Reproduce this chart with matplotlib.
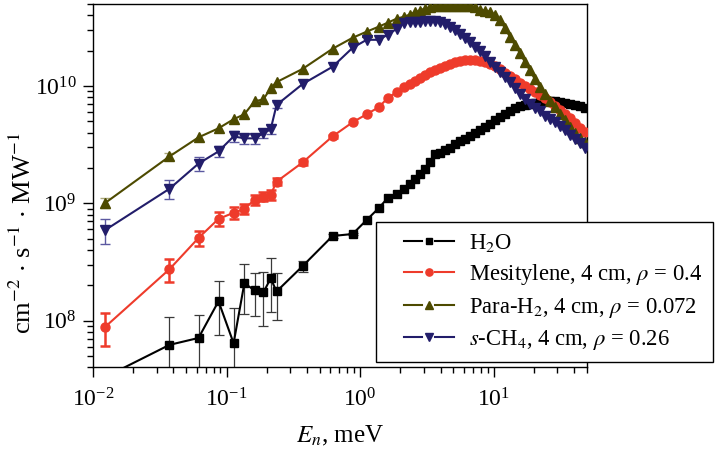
import matplotlib.pyplot as plt
from matplotlib.lines import Line2D
from matplotlib.legend_handler import HandlerBase

plt.rcParams['font.family'] = ['Liberation Serif', 'DejaVu Serif']
plt.rcParams['mathtext.fontset'] = 'stix'
plt.rcParams['font.size'] = 16

# energy bins (meV) below 2 meV, shared by all spectra
e_low = [0.0124, 0.0374, 0.0617, 0.0871, 0.113, 0.136, 0.162, 0.189, 0.214, 0.237,
         0.371, 0.622, 0.879, 1.12, 1.38, 1.61, 1.88]
# finer bins above 2 meV
e_high = [2.15, 2.35, 2.56, 2.79, 3.04, 3.32, 3.62, 3.94, 4.30, 4.68, 5.10, 5.56, 6.06,
          6.61, 7.20, 7.85, 8.57, 9.33, 10.2, 11.1, 12.1, 13.2, 14.4, 15.7, 17.1, 18.6,
          20.3, 22.1, 24.1, 26.3, 28.6, 31.2, 34.0, 37.1, 40.4, 44.1, 48.1]

# flux, cm^-2 s^-1 MW^-1
h2o_low = [3.3e7, 6.2e7, 7.1e7, 1.46e8, 6.4e7, 2.08e8, 1.81e8, 1.74e8, 2.29e8, 1.77e8,
           2.91e8, 5.26e8, 5.47e8, 7.21e8, 9.1e8, 1.11e9, 1.21e9]
h2o_high = [1.33e9, 1.47e9, 1.62e9, 1.79e9, 1.98e9, 2.23e9, 2.61e9, 2.71e9, 2.82e9, 2.99e9,
            3.18e9, 3.37e9, 3.51e9, 3.72e9, 3.95e9, 4.19e9, 4.45e9, 4.72e9, 5.11e9, 5.42e9,
            5.75e9, 6.1e9, 6.5e9, 6.7e9, 6.9e9, 7.0e9, 7.1e9, 7.3e9, 7.4e9, 7.4e9,
            7.4e9, 7.3e9, 7.1e9, 7.0e9, 6.9e9, 6.7e9, 6.5e9]
h2o_err = [0, 4.6e7, 4.1e7, 7.1e7, 6.5e7, 9.5e7, 7.2e7, 8.4e7, 1.11e8, 7.6e7, 3.0e7, 2.0e7, 1.5e7]

mes_low = [8.87e7, 2.74e8, 5.06e8, 7.36e8, 8.3e8, 8.97e8, 1.07e9, 1.14e9, 1.18e9, 1.53e9,
           2.23e9, 3.72e9, 4.91e9, 5.75e9, 6.6e9, 7.9e9, 8.9e9]
mes_high = [9.8e9, 1.04e10, 1.10e10, 1.17e10, 1.24e10, 1.32e10, 1.37e10, 1.43e10, 1.49e10,
            1.55e10, 1.61e10, 1.64e10, 1.67e10, 1.67e10, 1.67e10, 1.64e10, 1.61e10, 1.55e10,
            1.49e10, 1.40e10, 1.29e10, 1.22e10, 1.15e10, 1.06e10, 1.0e10, 9.4e9, 8.9e9,
            8.4e9, 7.9e9, 7.3e9, 6.7e9, 6.2e9, 5.75e9, 5.31e9, 4.81e9, 4.36e9, 4.03e9]
mes_err = [2.8e7, 6e7, 7e7, 1e8, 1e8, 8e7, 1e8, 1e8, 1.2e8, 1.0e8, 1.0e8, 1.0e8]

para_low = [1.01e9, 2.51e9, 3.65e9, 4.36e9, 5.21e9, 5.75e9, 7.4e9, 7.7e9, 9.6e9, 1.08e10,
            1.40e10, 2.08e10, 2.58e10, 2.91e10, 3.21e10, 3.47e10, 3.76e10]
para_high = [3.91e10, 4.07e10, 4.24e10, 4.40e10, 4.58e10, 4.68e10, 4.77e10, 4.77e10, 4.86e10,
             4.86e10, 4.86e10, 4.86e10, 4.86e10, 4.77e10, 4.68e10, 4.49e10, 4.40e10, 4.32e10,
             4.07e10, 3.69e10, 3.15e10, 2.64e10, 2.25e10, 1.92e10, 1.61e10, 1.37e10, 1.15e10,
             9.8e9, 8.5e9, 7.4e9, 6.6e9, 5.75e9, 5.11e9, 4.45e9, 3.95e9, 3.58e9, 3.30e9]
para_err = [1e8, 1.5e8]

ch4_low = [5.93e8, 1.33e9, 2.18e9, 2.77e9, 3.72e9, 3.58e9, 3.58e9, 3.95e9, 4.27e9, 6.9e9,
           1.04e10, 1.46e10, 2.12e10, 2.48e10, 2.48e10, 2.74e10, 3.08e10]
ch4_high = [3.47e10, 3.54e10, 3.54e10, 3.54e10, 3.62e10, 3.62e10, 3.62e10, 3.54e10, 3.41e10,
            3.21e10, 3.03e10, 2.79e10, 2.58e10, 2.39e10, 2.16e10, 2.0e10, 1.81e10, 1.61e10,
            1.46e10, 1.32e10, 1.19e10, 1.08e10, 9.6e9, 8.5e9, 7.7e9, 7.0e9, 6.5e9, 6.1e9,
            5.52e9, 5.21e9, 4.91e9, 4.54e9, 4.19e9, 3.80e9, 3.51e9, 3.24e9, 2.94e9]
ch4_err = [1.45e8, 2.5e8, 2.8e8, 3e8, 3.8e8, 3.5e8, 3.5e8, 3.8e8, 4e8, 4e8]

labels = ['H$_2$O',
          r'Mesitylene, 4 cm, $\rho$ = 0.4',
          r'Para-H$_2$, 4 cm, $\rho$ = 0.072',
          r'$s$-CH$_4$, 4 cm, $\rho$ = 0.26']

series = [
    # low, high, err, color, marker, size, err color, err width
    (h2o_low, h2o_high, h2o_err, '#000000', 's', 5.5, '#3a3a3a', 0.9),
    (mes_low, mes_high, mes_err, '#ee3b2b', 'o', 6.5, '#ee3b2b', 1.8),
    (para_low, para_high, para_err, '#4d4a00', '^', 7, '#a9a77a', 1.0),
    (ch4_low, ch4_high, ch4_err, '#221d6a', 'v', 7, '#5b58a0', 1.0),
]


class GapLineHandler(HandlerBase):
    # short line - marker - short line, set in from the left edge
    def create_artists(self, legend, orig, xdescent, ydescent, width, height, fontsize, trans):
        y = height / 2 - ydescent
        x1 = -xdescent + width
        x0 = x1 - 36
        xm = (x0 + x1) / 2
        gap = 5
        kw = dict(color=orig.get_color(), lw=1.5)
        left = Line2D([x0, xm - gap], [y, y], **kw)
        right = Line2D([xm + gap, x1], [y, y], **kw)
        mark = Line2D([xm], [y], marker=orig.get_marker(), ms=orig.get_markersize() * 0.8,
                      color=orig.get_color(), linestyle='none')
        for a in (left, right, mark):
            a.set_transform(trans)
        return [left, right, mark]


fig = plt.figure(figsize=(7.15, 4.55), dpi=100)
ax = fig.add_axes([0.130, 0.193, 0.691, 0.798])

handles = []
for i, (lo, hi, err, c, m, ms, ec, ew) in enumerate(series):
    ax.plot(e_low + e_high, lo + hi, color=c, marker=m, ms=ms, lw=1.5,
            mec=c, zorder=3 + i)
    n = len(err)
    ax.errorbar(e_low[:n], lo[:n], yerr=err, fmt='none', ecolor=ec, elinewidth=ew,
                capsize=3.5, capthick=ew, zorder=2.5 + i)
    handles.append(Line2D([], [], color=c, marker=m, ms=ms))

ax.set_xscale('log')
ax.set_yscale('log')
ax.set_xlim(0.01, 50)
ax.set_ylim(4e7, 5e10)

ax.tick_params(which='both', direction='out', top=False, right=False, width=1.0,
               pad=5, labelsize=17)
ax.tick_params(axis='x', which='both', pad=8)
ax.tick_params(which='major', length=7)
ax.tick_params(which='minor', length=4.5)
for s in ax.spines.values():
    s.set_linewidth(1.0)

ax.set_xlabel('$E_n$, meV', fontsize=18, labelpad=9)
ax.set_ylabel(r'cm$^{-2}$ $\cdot$ s$^{-1}$ $\cdot$ MW$^{-1}$', fontsize=19)
ax.yaxis.set_label_coords(-0.115, 0.37)

leg = ax.legend(handles, labels, loc='upper left', bbox_to_anchor=(0.526, 0.512),
                bbox_transform=fig.transFigure, borderaxespad=0, borderpad=0.45,
                handlelength=2.97, handletextpad=0.7, labelspacing=0.36,
                fontsize=16.3, fancybox=False, framealpha=1, edgecolor='black',
                handler_map={Line2D: GapLineHandler()})
leg.get_frame().set_linewidth(1.0)
leg.set_zorder(10)

fig.savefig('out.png', dpi=100)
